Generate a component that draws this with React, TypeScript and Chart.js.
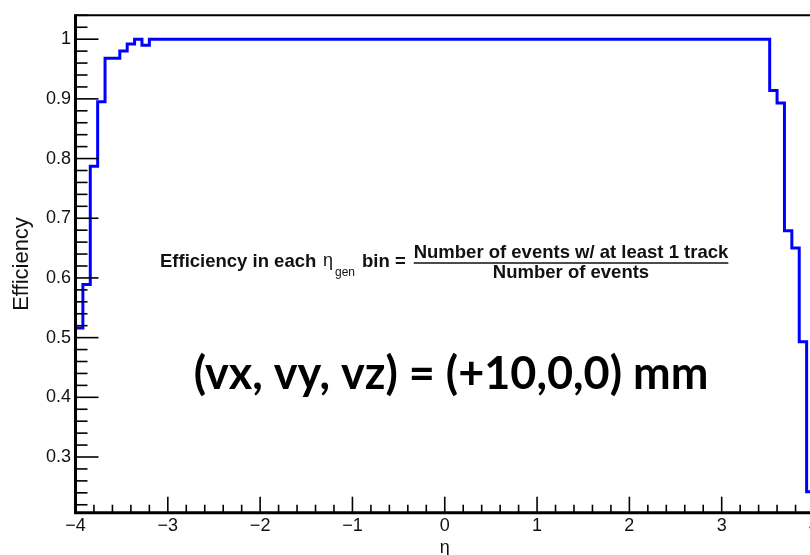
import React, { useEffect, useRef } from "react";
import { Chart, registerables } from "chart.js";

Chart.register(...registerables);

// Histogram binning in eta
const BIN_LO = -4;
const BIN_WIDTH = 0.08;

// Efficiency per eta bin (100 bins from -4 to 4)
const EFFICIENCY = [
  0.516, 0.589, 0.787, 0.895, 0.968, 0.968, 0.98, 0.992, 1.0, 0.99,
  1, 1, 1, 1, 1, 1, 1, 1, 1, 1, 1, 1,
  1, 1, 1, 1, 1, 1, 1, 1, 1, 1, 1, 1,
  1, 1, 1, 1, 1, 1, 1, 1, 1, 1, 1, 1,
  1, 1, 1, 1, 1, 1, 1, 1, 1, 1, 1, 1,
  1, 1, 1, 1, 1, 1, 1, 1, 1, 1, 1, 1,
  1, 1, 1, 1, 1, 1, 1, 1, 1, 1, 1, 1,
  1, 1, 1, 1, 1, 1, 1, 1, 1, 1, 1, 1,
  0.914, 0.893, 0.679, 0.65, 0.493, 0.242,
];

// Axis ranges and labelled ticks
const X_MIN = -4;
const X_MAX = 4;
const Y_MIN = 0.2067;
const Y_MAX = 1.04;
const X_TICKS = [-4, -3, -2, -1, 0, 1, 2, 3, 4];
const Y_TICKS = [0.3, 0.4, 0.5, 0.6, 0.7, 0.8, 0.9, 1];
const X_MINOR_STEP = 0.2;
const Y_MINOR_STEP = 0.02;

const X_TITLE = "η";
const Y_TITLE = "Efficiency";
const VERTEX_TEXT = "(vx, vy, vz) = (+10,0,0) mm";
const NUMERATOR = "Number of events w/ at least 1 track";
const DENOMINATOR = "Number of events";

const SANS = "'Liberation Sans', Arial, sans-serif";

// Outline of the histogram as a stepped path, dropping to the floor at both ends
function histogramPoints() {
  const pts: { x: number; y: number }[] = [];
  pts.push({ x: BIN_LO, y: 0 });
  EFFICIENCY.forEach((v, i) => pts.push({ x: BIN_LO + i * BIN_WIDTH, y: v }));
  const last = EFFICIENCY[EFFICIENCY.length - 1];
  const hi = BIN_LO + EFFICIENCY.length * BIN_WIDTH;
  pts.push({ x: hi, y: last });
  pts.push({ x: hi, y: 0 });
  return pts;
}

// Frame, inward ticks and the text overlays
const framePlugin = {
  id: "histFrame",
  afterDatasetsDraw(chart: any) {
    const { ctx, chartArea: a, scales } = chart;
    const xs = scales.x;
    const ys = scales.y;
    ctx.save();
    ctx.strokeStyle = "#000";
    ctx.lineCap = "butt";

    // y ticks
    ctx.lineWidth = 1.6;
    const ky0 = Math.ceil(Y_MIN / Y_MINOR_STEP - 1e-6);
    const ky1 = Math.floor(Y_MAX / Y_MINOR_STEP + 1e-6);
    for (let k = ky0; k <= ky1; k++) {
      const py = ys.getPixelForValue(k * Y_MINOR_STEP);
      const len = k % 5 === 0 ? 23 : 12;
      ctx.beginPath();
      ctx.moveTo(a.left, py);
      ctx.lineTo(a.left + len, py);
      ctx.stroke();
    }
    // x ticks
    const kx0 = Math.ceil(X_MIN / X_MINOR_STEP - 1e-6);
    const kx1 = Math.floor(X_MAX / X_MINOR_STEP + 1e-6);
    for (let k = kx0; k <= kx1; k++) {
      const px = xs.getPixelForValue(k * X_MINOR_STEP);
      const len = k % 5 === 0 ? 16 : 8;
      ctx.beginPath();
      ctx.moveTo(px, a.bottom);
      ctx.lineTo(px, a.bottom - len);
      ctx.stroke();
    }

    // frame
    ctx.lineWidth = 2;
    ctx.beginPath();
    ctx.moveTo(a.left, a.top);
    ctx.lineTo(a.right, a.top);
    ctx.lineTo(a.right, a.bottom);
    ctx.stroke();
    ctx.lineWidth = 3;
    ctx.beginPath();
    ctx.moveTo(a.left, a.top - 1);
    ctx.lineTo(a.left, a.bottom);
    ctx.lineTo(a.right, a.bottom);
    ctx.stroke();
    ctx.restore();
  },
  afterDraw(chart: any) {
    const { ctx } = chart;
    ctx.save();
    ctx.fillStyle = "#111";
    ctx.textBaseline = "alphabetic";
    ctx.textAlign = "left";

    // efficiency definition
    ctx.font = `bold 18.5px ${SANS}`;
    ctx.fillText("Efficiency in each", 160, 267);
    ctx.font = `18px ${SANS}`;
    ctx.fillText("η", 323, 266);
    ctx.font = `12px ${SANS}`;
    ctx.fillText("gen", 335, 276);
    ctx.font = `bold 18.5px ${SANS}`;
    ctx.fillText("bin =", 362, 267);

    const cx = 571;
    ctx.textAlign = "center";
    ctx.fillText(NUMERATOR, cx, 258);
    ctx.fillText(DENOMINATOR, cx, 278);
    const w = ctx.measureText(NUMERATOR).width;
    ctx.strokeStyle = "#111";
    ctx.lineWidth = 1.6;
    ctx.beginPath();
    ctx.moveTo(cx - w / 2, 263);
    ctx.lineTo(cx + w / 2, 263);
    ctx.stroke();

    // vertex position
    ctx.fillStyle = "#000";
    ctx.font = `bold 45px Lato, 'Open Sans', sans-serif`;
    ctx.textBaseline = "middle";
    ctx.fillText(VERTEX_TEXT, 451, 374);
    ctx.restore();
  },
};

function formatX(v: number) {
  return v < 0 ? "\u2212" + Math.abs(v) : String(v);
}

export default function App() {
  const ref = useRef<HTMLCanvasElement | null>(null);

  useEffect(() => {
    if (!ref.current) return;
    const chart = new Chart(ref.current, {
      type: "line",
      data: {
        datasets: [
          {
            data: histogramPoints(),
            borderColor: "#0000ff",
            borderWidth: 3,
            pointRadius: 0,
            fill: false,
            stepped: "before",
            tension: 0,
          },
        ],
      },
      options: {
        responsive: false,
        animation: false,
        devicePixelRatio: 1,
        layout: { padding: { top: 11, right: 16, left: 0, bottom: 0 } },
        plugins: { legend: { display: false }, tooltip: { enabled: false } },
        scales: {
          x: {
            type: "linear",
            min: X_MIN,
            max: X_MAX,
            grid: { display: false, drawTicks: false },
            border: { display: false },
            afterFit: (s: any) => {
              s.height = 42.3;
            },
            afterBuildTicks: (s: any) => {
              s.ticks = X_TICKS.map((v) => ({ value: v }));
            },
            ticks: {
              padding: 3,
              color: "#111",
              font: { family: SANS, size: 18 },
              maxRotation: 0,
              autoSkip: false,
              callback: (v: any) => formatX(Number(v)),
            },
            title: {
              display: true,
              text: X_TITLE,
              color: "#111",
              font: { family: SANS, size: 18, lineHeight: "14px" },
              padding: 0,
            },
          },
          y: {
            type: "linear",
            min: Y_MIN,
            max: Y_MAX,
            grid: { display: false, drawTicks: false },
            border: { display: false },
            afterFit: (s: any) => {
              s.width = 75.5;
            },
            afterBuildTicks: (s: any) => {
              s.ticks = Y_TICKS.map((v) => ({ value: v }));
            },
            ticks: {
              padding: 4.5,
              color: "#111",
              font: { family: SANS, size: 18 },
              autoSkip: false,
              callback: (v: any) => String(Math.round(Number(v) * 10) / 10),
            },
            title: {
              display: true,
              text: Y_TITLE,
              color: "#111",
              font: { family: SANS, size: 22 },
              padding: { top: 9, bottom: 9 },
            },
          },
        },
      },
      plugins: [framePlugin],
    });
    return () => chart.destroy();
  }, []);

  return (
    <div
      style={{
        position: "absolute",
        left: 0,
        top: 0,
        width: 810,
        height: 555,
        overflow: "hidden",
        background: "#fff",
      }}
    >
      <canvas ref={ref} width={830} height={555} style={{ display: "block" }} />
    </div>
  );
}
